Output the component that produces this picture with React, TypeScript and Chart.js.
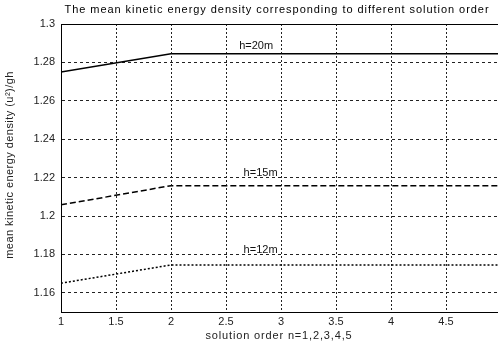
import React, { useEffect, useRef } from "react";
import { Chart, registerables } from "chart.js";

Chart.register(...registerables);

const orders = [1, 2, 3, 4, 5];
const h20 = [1.275, 1.2845, 1.2845, 1.2845, 1.2845];
const h15 = [1.2058, 1.2158, 1.2158, 1.2158, 1.2158];
const h12 = [1.165, 1.1745, 1.1745, 1.1745, 1.1745];

const xTicks = [1, 1.5, 2, 2.5, 3, 3.5, 4, 4.5, 5];
const yTicks = [1.16, 1.18, 1.2, 1.22, 1.24, 1.26, 1.28, 1.3];

const labelTexts = ["h=20m", "h=15m", "h=12m"];
const labelX = [2.62, 2.66, 2.66];
const labelY = [1.2888, 1.2222, 1.1822];

const titleText = "The mean kinetic energy density corresponding to different solution order";
const xTitle = "solution order n=1,2,3,4,5";
const yTitle = "mean kinetic energy density (u\u00B2)/gh";

const FONT = "'Liberation Sans', Arial, sans-serif";

export default function App() {
  const ref = useRef<HTMLCanvasElement | null>(null);

  useEffect(() => {
    if (!ref.current) return;
    const mk = (arr: number[]) => orders.map((x, i) => ({ x, y: arr[i] }));

    const textPlugin = {
      id: "boxAndText",
      afterDraw(chart: any) {
        const { ctx, chartArea, scales } = chart;
        ctx.save();
        ctx.strokeStyle = "#000";
        ctx.lineWidth = 1;
        ctx.setLineDash([]);
        ctx.beginPath();
        ctx.moveTo(chartArea.left, chartArea.top + 0.5);
        ctx.lineTo(chartArea.right, chartArea.top + 0.5);
        ctx.moveTo(chartArea.right - 0.5, chartArea.top);
        ctx.lineTo(chartArea.right - 0.5, chartArea.bottom);
        ctx.stroke();

        ctx.fillStyle = "#111";
        ctx.font = `11px ${FONT}`;
        ctx.textAlign = "left";
        ctx.textBaseline = "middle";
        labelTexts.forEach((t, i) => {
          ctx.fillText(t, scales.x.getPixelForValue(labelX[i]), scales.y.getPixelForValue(labelY[i]));
        });

        ctx.textAlign = "center";
        ctx.fillStyle = "#000";
        (ctx as any).letterSpacing = "0.95px";
        ctx.fillText(titleText, 277, 10);

        ctx.fillStyle = "#222";
        (ctx as any).letterSpacing = "0.85px";
        ctx.fillText(xTitle, 279, 336);

        (ctx as any).letterSpacing = "0.45px";
        ctx.translate(10, (chartArea.top + chartArea.bottom) / 2 - 3);
        ctx.rotate(-Math.PI / 2);
        ctx.fillText(yTitle, 0, 0);
        ctx.restore();
      },
    };

    const chart = new Chart(ref.current, {
      type: "line",
      data: {
        datasets: [
          { label: "h=20m", data: mk(h20), borderColor: "#000", borderWidth: 1.5, pointRadius: 0, fill: false },
          { label: "h=15m", data: mk(h15), borderColor: "#000", borderWidth: 1.5, borderDash: [6, 3], pointRadius: 0, fill: false },
          { label: "h=12m", data: mk(h12), borderColor: "#000", borderWidth: 1.5, borderDash: [2, 2], pointRadius: 0, fill: false },
        ],
      },
      options: {
        animation: false,
        responsive: false,
        layout: { padding: { left: 0, right: 5, top: 24, bottom: 0 } },
        plugins: {
          legend: { display: false },
          tooltip: { enabled: false },
          title: { display: false },
        },
        scales: {
          x: {
            type: "linear",
            min: 1,
            max: 5,
            afterBuildTicks: (s: any) => { s.ticks = xTicks.map((v) => ({ value: v })); },
            afterFit: (s: any) => { s.height = 33; s.paddingLeft = 0; s.paddingRight = 0; },
            ticks: {
              color: "#222",
              font: { family: FONT, size: 11 },
              padding: 3,
              maxRotation: 0,
              autoSkip: false,
              callback: (v: any) => String(+Number(v).toFixed(2)),
            },
            grid: { color: "#222", lineWidth: 1, drawTicks: false },
            border: { display: true, color: "#000", width: 1, dash: [2, 2] },
            title: { display: false },
          },
          y: {
            type: "linear",
            min: 1.15,
            max: 1.3,
            afterBuildTicks: (s: any) => { s.ticks = yTicks.map((v) => ({ value: v })); },
            afterFit: (s: any) => { s.width = 61; s.paddingTop = 0; s.paddingBottom = 0; },
            ticks: {
              color: "#222",
              font: { family: FONT, size: 11 },
              padding: 6,
              autoSkip: false,
              callback: (v: any) => String(+Number(v).toFixed(2)),
            },
            grid: { color: "#222", lineWidth: 1, drawTicks: false },
            border: { display: true, color: "#000", width: 1, dash: [3, 3] },
            title: { display: false },
          },
        },
      },
      plugins: [textPlugin],
    } as any);
    return () => chart.destroy();
  }, []);

  return (
    <div style={{ position: "absolute", left: 0, top: 0, width: 498, height: 345, overflow: "hidden", background: "#fff" }}>
      <canvas ref={ref} width={506} height={345} style={{ display: "block", width: 506, height: 345 }} />
    </div>
  );
}
